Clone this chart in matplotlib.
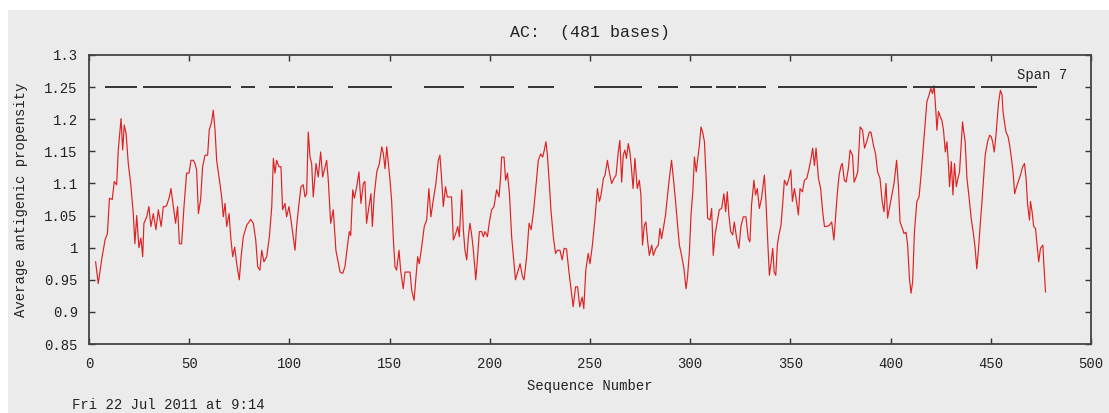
import matplotlib.pyplot as plt
from matplotlib.patches import Rectangle

# antigenic propensity trace (position, value)
seq_pos = [3.3, 4.6, 6.3, 8.0, 9.2, 10.2, 11.6, 12.6, 13.8, 14.6, 16.0, 16.8, 17.6, 18.5, 19.6, 20.8,
           22.1, 22.9, 23.8, 24.9, 25.9, 26.8, 27.4, 28.8, 29.9, 30.9, 32.1, 33.4, 34.6, 36.0, 37.1, 38.1,
           38.8, 40.1, 40.9, 42.1, 43.2, 44.2, 45.1, 46.2, 47.4, 48.7, 49.9, 50.9, 52.1, 52.9, 53.7, 54.6,
           55.7, 56.7, 57.9, 59.2, 60.0, 61.2, 62.0, 62.9, 63.7, 65.1, 66.2, 67.0, 67.9, 68.7, 69.9, 70.7,
           71.7, 72.7, 73.7, 75.0, 75.9, 77.0, 78.7, 80.7, 82.0, 83.2, 84.2, 85.3, 86.2, 87.3, 88.7, 90.0,
           91.2, 92.0, 92.8, 93.6, 94.8, 95.8, 96.6, 97.8, 98.6, 99.8, 100.8, 101.9, 102.8, 103.6, 104.8,
           105.8, 106.9, 107.8, 108.6, 109.4, 110.3, 111.1, 111.9, 113.3, 114.4, 115.6, 116.6, 117.8,
           118.6, 119.4, 120.6, 121.9, 123.2, 125.3, 126.6, 127.7, 128.9, 129.9, 130.6, 131.6, 132.4,
           133.6, 134.7, 135.7, 136.9, 137.7, 138.5, 139.7, 140.7, 141.4, 142.4, 143.6, 144.9, 146.1,
           146.9, 147.7, 148.6, 149.4, 150.2, 151.0, 151.9, 152.7, 153.5, 154.7, 155.5, 156.8, 157.7,
           158.8, 160.2, 161.0, 162.2, 163.2, 164.0, 164.8, 166.0, 167.3, 168.5, 169.6, 170.6, 171.8,
           173.1, 174.3, 175.1, 175.9, 176.8, 177.9, 178.8, 179.8, 180.9, 181.8, 183.0, 184.0, 184.8,
           186.0, 186.8, 187.6, 188.5, 189.3, 190.1, 191.0, 191.8, 193.0, 193.8, 194.8, 196.0, 196.8,
           197.6, 198.8, 199.8, 200.9, 202.1, 203.4, 204.6, 205.4, 205.9, 207.1, 207.9, 208.8, 209.8,
           210.9, 211.8, 212.8, 213.9, 215.1, 216.3, 217.1, 218.4, 219.6, 220.6, 221.7, 223.0, 224.2,
           225.4, 226.4, 227.2, 228.0, 228.7, 229.7, 230.5, 231.7, 232.8, 233.8, 235.0, 236.1, 237.1,
           238.3, 239.4, 240.4, 241.6, 242.8, 243.8, 244.9, 246.1, 246.9, 247.9, 249.1, 250.0, 251.2,
           252.5, 253.7, 254.7, 255.5, 256.7, 257.5, 258.7, 259.6, 260.8, 262.0, 263.0, 264.1, 264.9,
           265.8, 266.6, 267.4, 268.2, 269.1, 269.9, 270.7, 271.5, 272.4, 273.6, 274.6, 275.4, 276.2,
           277.1, 277.9, 278.8, 279.6, 280.8, 281.6, 282.9, 284.1, 284.9, 285.7, 286.6, 287.7, 288.7,
           289.6, 290.7, 291.6, 292.7, 293.7, 294.6, 295.7, 296.9, 297.9, 298.6, 299.6, 300.4, 301.3,
           302.1, 303.0, 303.8, 304.6, 305.4, 306.2, 307.1, 307.9, 308.7, 309.9, 310.7, 311.5, 312.4,
           313.5, 314.5, 315.7, 316.8, 317.7, 318.5, 319.3, 320.2, 321.2, 322.0, 323.2, 324.3, 325.3,
           326.5, 327.8, 329.0, 329.8, 330.6, 331.8, 332.6, 333.5, 334.5, 335.6, 337.0, 337.8, 338.7,
           339.5, 340.4, 341.2, 341.9, 342.7, 343.5, 344.3, 345.3, 346.1, 347.0, 348.2, 349.3, 350.2,
           351.0, 352.0, 352.8, 354.0, 354.8, 356.0, 357.0, 358.2, 359.3, 360.3, 361.1, 362.0, 362.8,
           364.0, 365.1, 366.1, 367.0, 368.2, 369.5, 370.6, 371.7, 372.6, 373.4, 374.3, 375.3, 375.9,
           376.9, 377.8, 378.9, 379.8, 381.0, 381.8, 382.8, 383.6, 384.8, 386.0, 387.0, 388.1, 389.4,
           390.2, 391.4, 392.5, 393.5, 394.7, 395.8, 396.7, 397.7, 398.5, 399.4, 400.5, 401.7, 403.0,
           403.9, 404.7, 405.9, 406.7, 407.7, 408.5, 409.4, 410.2, 411.0, 411.9, 413.1, 414.2, 415.2,
           416.4, 417.2, 418.1, 419.2, 420.1, 420.9, 421.7, 422.6, 423.1, 423.9, 424.8, 425.6, 426.4,
           427.3, 428.1, 428.9, 429.4, 430.3, 431.1, 431.9, 432.8, 433.6, 434.4, 435.3, 435.9, 436.4,
           437.2, 438.1, 439.2, 440.2, 441.4, 442.2, 443.0, 443.9, 444.7, 445.6, 446.4, 447.2, 448.4,
           449.4, 450.2, 450.9, 451.7, 452.6, 453.1, 453.9, 454.8, 455.6, 456.1, 456.8, 457.6, 458.6,
           459.4, 460.3, 461.1, 461.9, 462.6, 463.6, 464.8, 465.9, 466.8, 467.6, 468.4, 469.3, 469.8,
           470.6, 471.4, 472.3, 473.1, 473.9, 474.8, 476.0, 476.4, 477.3]
propensity = [0.978, 0.944, 0.981, 1.012, 1.022, 1.077, 1.075, 1.103, 1.098, 1.152, 1.201, 1.152, 1.191,
              1.178, 1.131, 1.100, 1.053, 1.006, 1.050, 1.000, 1.015, 0.986, 1.038, 1.048, 1.064, 1.033,
              1.053, 1.028, 1.059, 1.033, 1.064, 1.064, 1.066, 1.079, 1.092, 1.064, 1.038, 1.064, 1.006,
              1.006, 1.064, 1.116, 1.116, 1.136, 1.136, 1.131, 1.121, 1.053, 1.075, 1.126, 1.144, 1.144,
              1.183, 1.196, 1.214, 1.183, 1.136, 1.105, 1.079, 1.048, 1.069, 1.033, 1.053, 1.017, 0.986,
              1.001, 0.975, 0.950, 0.986, 1.017, 1.035, 1.044, 1.038, 1.012, 0.970, 0.965, 0.996, 0.978,
              0.986, 1.017, 1.064, 1.139, 1.116, 1.136, 1.126, 1.126, 1.059, 1.069, 1.048, 1.064, 1.043,
              1.017, 0.996, 1.033, 1.069, 1.095, 1.098, 1.079, 1.084, 1.180, 1.141, 1.131, 1.079, 1.131,
              1.110, 1.149, 1.110, 1.126, 1.136, 1.105, 1.038, 1.059, 0.996, 0.962, 0.960, 0.970, 1.001,
              1.025, 1.019, 1.090, 1.077, 1.095, 1.118, 1.069, 1.100, 1.103, 1.038, 1.064, 1.084, 1.033,
              1.084, 1.118, 1.131, 1.157, 1.146, 1.123, 1.157, 1.131, 1.105, 1.074, 1.012, 0.970, 0.965,
              0.996, 0.965, 0.936, 0.962, 0.962, 0.962, 0.934, 0.918, 0.955, 0.986, 0.975, 1.001, 1.033,
              1.043, 1.092, 1.048, 1.074, 1.100, 1.136, 1.144, 1.110, 1.064, 1.095, 1.079, 1.079, 1.079,
              1.012, 1.022, 1.033, 1.017, 1.090, 1.028, 0.996, 0.981, 1.017, 1.038, 1.019, 0.996, 0.950,
              0.981, 1.025, 1.025, 1.017, 1.025, 1.017, 1.040, 1.059, 1.064, 1.090, 1.079, 1.110, 1.141,
              1.141, 1.105, 1.116, 1.084, 1.017, 0.986, 0.950, 0.962, 0.975, 0.955, 0.950, 0.986, 1.038,
              1.028, 1.053, 1.095, 1.136, 1.146, 1.141, 1.152, 1.165, 1.146, 1.100, 1.059, 1.017, 0.991,
              0.996, 0.996, 0.981, 0.999, 0.998, 0.965, 0.939, 0.908, 0.939, 0.939, 0.908, 0.923, 0.905,
              0.965, 0.991, 0.975, 1.004, 1.046, 1.092, 1.072, 1.082, 1.108, 1.113, 1.136, 1.118, 1.100,
              1.108, 1.113, 1.149, 1.167, 1.102, 1.144, 1.152, 1.139, 1.162, 1.149, 1.123, 1.092, 1.139,
              1.092, 1.105, 1.082, 1.004, 1.035, 1.040, 1.009, 0.988, 1.004, 0.988, 0.999, 1.004, 1.030,
              1.014, 1.030, 1.051, 1.082, 1.108, 1.136, 1.108, 1.072, 1.035, 1.004, 0.988, 0.967, 0.936,
              0.952, 0.993, 1.051, 1.087, 1.141, 1.118, 1.139, 1.160, 1.188, 1.180, 1.165, 1.113, 1.046,
              1.043, 1.061, 0.988, 1.020, 1.040, 1.059, 1.061, 1.084, 1.056, 1.087, 1.051, 1.025, 1.020,
              1.040, 1.014, 0.999, 1.033, 1.048, 1.048, 1.014, 1.009, 1.066, 1.105, 1.082, 1.092, 1.061,
              1.077, 1.113, 1.072, 1.009, 0.957, 0.978, 0.999, 0.962, 0.957, 1.004, 1.020, 1.035, 1.066,
              1.105, 1.097, 1.108, 1.121, 1.072, 1.092, 1.077, 1.051, 1.092, 1.087, 1.105, 1.108, 1.123,
              1.139, 1.155, 1.128, 1.155, 1.108, 1.092, 1.056, 1.033, 1.033, 1.035, 1.040, 1.012, 1.051,
              1.084, 1.113, 1.128, 1.131, 1.105, 1.102, 1.123, 1.152, 1.144, 1.102, 1.110, 1.118, 1.188,
              1.183, 1.155, 1.165, 1.180, 1.180, 1.160, 1.146, 1.118, 1.108, 1.072, 1.056, 1.100, 1.046,
              1.061, 1.079, 1.100, 1.136, 1.097, 1.040, 1.030, 1.022, 1.024, 1.004, 0.952, 0.929, 0.947,
              1.025, 1.072, 1.079, 1.113, 1.160, 1.191, 1.227, 1.238, 1.248, 1.240, 1.252, 1.212, 1.183,
              1.212, 1.204, 1.198, 1.183, 1.149, 1.165, 1.128, 1.095, 1.134, 1.082, 1.131, 1.095, 1.108,
              1.118, 1.165, 1.196, 1.183, 1.165, 1.108, 1.077, 1.046, 1.020, 0.999, 0.967, 0.999, 1.035,
              1.072, 1.108, 1.144, 1.165, 1.175, 1.173, 1.165, 1.149, 1.175, 1.196, 1.227, 1.245, 1.238,
              1.212, 1.196, 1.180, 1.173, 1.160, 1.139, 1.118, 1.084, 1.092, 1.102, 1.113, 1.126, 1.131,
              1.108, 1.066, 1.043, 1.072, 1.056, 1.033, 1.030, 1.004, 0.978, 0.999, 1.004, 0.978, 0.931]

# predicted antigenic regions (start, end), drawn as bars at 1.25
region_start = [8, 27, 76, 90, 104, 129, 167, 195, 219, 252, 284, 300, 313, 324, 344, 411, 445]
region_end = [24, 71, 83, 103, 122, 151, 187, 212, 232, 276, 294, 311, 323, 338, 408, 442, 473]
region_level = 1.25

yticks = [0.85, 0.9, 0.95, 1.0, 1.05, 1.1, 1.15, 1.2, 1.25, 1.3]
ytick_labels = ["0.85", "0.9", "0.95", "1", "1.05", "1.1", "1.15", "1.2", "1.25", "1.3"]
xticks = [0, 50, 100, 150, 200, 250, 300, 350, 400, 450, 500]

bg = "#ebebeb"
plt.rcParams["font.family"] = ["Liberation Mono", "DejaVu Sans Mono"]
plt.rcParams["font.size"] = 10

fig = plt.figure(figsize=(11.09, 4.13), dpi=100, facecolor="white")
# grey panel, leaving a thin white strip at top and left like the original screenshot
fig.patches.append(Rectangle((8 / 1109, 0), 1, 1 - 10 / 413, transform=fig.transFigure,
                             facecolor=bg, edgecolor="none", zorder=-10))

ax = fig.add_axes([89 / 1109, 69 / 413, 1002 / 1109, 289 / 413])
ax.set_facecolor(bg)

ax.plot(seq_pos, propensity, color="#dd2222", linewidth=0.85)
for s, e in zip(region_start, region_end):
    ax.plot([s, e], [region_level, region_level], color="#333333", linewidth=1.4, solid_capstyle="butt")

ax.set_xlim(0, 500)
ax.set_ylim(0.85, 1.3)
ax.set_xticks(xticks)
ax.set_yticks(yticks)
ax.set_yticklabels(ytick_labels)
ax.tick_params(direction="in", length=4, width=1, color="#333333", top=True, right=True,
               labelsize=10, labelcolor="#222222")
ax.tick_params(axis="y", pad=8)
ax.tick_params(axis="x", pad=9)
for sp in ax.spines.values():
    sp.set_color("#444444")
    sp.set_linewidth(1.3)

ax.set_xlabel("Sequence Number", color="#222222", labelpad=6)
ax.set_ylabel("Average antigenic propensity", color="#222222", labelpad=12)
ax.set_title("AC:  (481 bases)", color="#222222", pad=13)
ax.text(488, 1.269, "Span 7", ha="right", va="center", color="#222222")
fig.text(72 / 1109, 1 - 405 / 413, "Fri 22 Jul 2011 at 9:14", ha="left", va="center", color="#222222")

plt.savefig("out.png", dpi=100, facecolor=fig.get_facecolor())
